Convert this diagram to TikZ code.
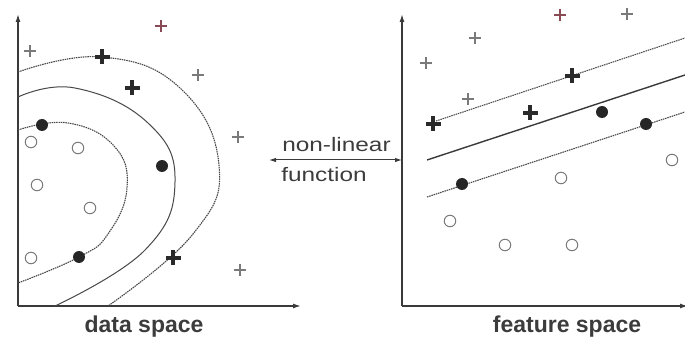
\documentclass[tikz,border=0pt]{standalone}
\usepackage{fontspec}
\setmainfont{Liberation Sans}
\usetikzlibrary{arrows.meta}
\definecolor{axisgray}{HTML}{3A3A3A}
\definecolor{curvegray}{HTML}{484848}
\definecolor{markgray}{HTML}{7A7A7A}
\definecolor{crossdark}{HTML}{2A2A2A}
\definecolor{textgray}{HTML}{3C3C3C}
\definecolor{redgray}{HTML}{8A4A55}
\tikzset{
  axis/.style={draw=axisgray,line width=1.4pt,-{Latex[length=8pt,width=5pt]}},
  solidcurve/.style={draw=curvegray,line width=1pt},
  dotcurve/.style={draw=curvegray,line width=1.1pt,dash pattern=on 1.5pt off 0.8pt},
  thincross/.pic={\fill[fill=markgray] (-5.8,-0.55) rectangle (5.8,0.55); \fill[fill=markgray] (-0.55,-5.8) rectangle (0.55,5.8);},
  redcross/.pic={\fill[fill=redgray] (-5.8,-0.55) rectangle (5.8,0.55); \fill[fill=redgray] (-0.55,-5.8) rectangle (0.55,5.8);},
  thickcross/.pic={\fill[fill=crossdark] (-7.5,-1.7) rectangle (7.5,1.7); \fill[fill=crossdark] (-1.7,-7.5) rectangle (1.7,7.5);},
  filleddot/.style={circle,fill=black!85,minimum size=12pt,inner sep=0pt},
  opendot/.style={circle,draw=markgray,line width=1pt,minimum size=11.5pt,inner sep=0pt},
  spacelabel/.style={font=\fontsize{23}{26}\selectfont\bfseries,text=textgray},
  fnlabel/.style={font=\fontsize{19.5}{22}\selectfont,text=textgray,xscale=1.25,inner sep=0pt},
}
\begin{document}
\begin{tikzpicture}[x=1pt,y=-1pt]
\useasboundingbox (0,0) rectangle (685,347);
% ---------- left panel ----------
\coordinate (lo) at (18,306);
\coordinate (ltop) at (18,14);
\coordinate (lright) at (301,306);
\draw[axis] (lo) -- (ltop);
\draw[axis] (lo) -- (lright);
\draw[dotcurve] plot[smooth,tension=0.75] coordinates {(18,72) (102,57) (180,88) (219,165) (193,234) (108,306)};
\draw[solidcurve] plot[smooth,tension=0.75] coordinates {(18,97) (75,88) (148,123) (175,182) (145,250) (55,306)};
\draw[dotcurve] plot[smooth,tension=0.75] coordinates {(18,130) (68,123) (114,146) (127,188) (108,234) (79,257) (18,283)};
\pic (lt1) at (30,51) {thincross};
\pic (lt2) at (161,26) {redcross};
\pic (lt3) at (198,75) {thincross};
\pic (lt4) at (238,137) {thincross};
\pic (lt5) at (240,270) {thincross};
\pic (lk1) at (102,57) {thickcross};
\pic (lk2) at (132,88) {thickcross};
\pic (lk3) at (173,258) {thickcross};
\node[filleddot] (lf1) at (42,125) {};
\node[filleddot] (lf2) at (162,166) {};
\node[filleddot] (lf3) at (79,257) {};
\node[opendot] (lc1) at (31,142) {};
\node[opendot] (lc2) at (78,148) {};
\node[opendot] (lc3) at (37,185) {};
\node[opendot] (lc4) at (90,208) {};
\node[opendot] (lc5) at (31,258) {};
\node[spacelabel] (dlab) at (144,327) {data space};
% ---------- right panel ----------
\coordinate (ro) at (402,306);
\coordinate (rtop) at (402,14);
\coordinate (rright) at (688,306);
\draw[axis] (ro) -- (rtop);
\draw[axis] (ro) -- (rright);
\coordinate (u1) at (436,121);
\coordinate (u2) at (685,38);
\coordinate (m1) at (427,160);
\coordinate (m2) at (685,75);
\coordinate (d1) at (427,197);
\coordinate (d2) at (685,112);
\draw[dotcurve] (u1) -- (u2);
\draw[draw=axisgray,line width=1.4pt] (m1) -- (m2);
\draw[dotcurve] (d1) -- (d2);
\pic (rt1) at (560,15) {redcross};
\pic (rt2) at (627,14) {thincross};
\pic (rt3) at (475,38) {thincross};
\pic (rt4) at (426,63) {thincross};
\pic (rt5) at (468,99) {thincross};
\pic (rk1) at (572,76) {thickcross};
\pic (rk2) at (530,113) {thickcross};
\pic (rk3) at (433,124) {thickcross};
\node[filleddot] (rf1) at (602,112) {};
\node[filleddot] (rf2) at (646,124) {};
\node[filleddot] (rf3) at (462,184) {};
\node[opendot] (rc1) at (561,178) {};
\node[opendot] (rc2) at (672,160) {};
\node[opendot] (rc3) at (450,221) {};
\node[opendot] (rc4) at (505,245) {};
\node[opendot] (rc5) at (572,245) {};
\node[spacelabel] (flab) at (567,327) {feature space};
% ---------- middle arrow ----------
\coordinate (al) at (269,160);
\coordinate (ar) at (402,160);
\draw[draw=axisgray,line width=1pt,{Latex[length=7pt,width=4.5pt]}-{Latex[length=7pt,width=4.5pt]}] (al) -- (ar);
\node[fnlabel,anchor=base west] (fn1) at (282,152) {non-linear};
\node[fnlabel,anchor=base west] (fn2) at (281,182) {function};
\end{tikzpicture}
\end{document}
